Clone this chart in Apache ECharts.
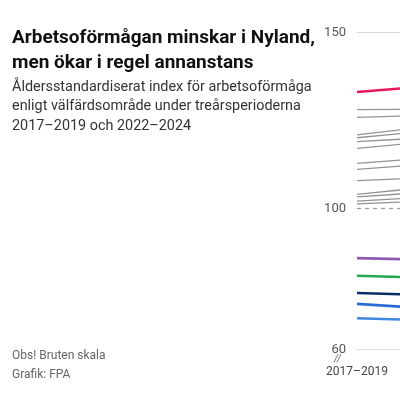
<!DOCTYPE html>
<html>
<head>
<meta charset="utf-8">
<script src="https://cdn.jsdelivr.net/npm/echarts@6/dist/echarts.min.js"></script>
<style>html,body{margin:0;padding:0;background:#fff}#c{width:400px;height:400px}</style>
</head>
<body>
<div id="c"></div>
<script>
// Periods (x categories)
const periods = ['2017–2019', '2022–2024'];
// Y-axis tick labels shown
const yTicks = [60, 100, 150];

// Grey regions (index values, 2017–2019 and 2022–2024)
const greyStart = [128.1, 125.9, 120.9, 120.1, 119.0, 117.1, 112.8, 111.1, 107.9, 104.0, 103.3, 102.1, 101.3];
const greyEnd   = [128.3, 127.7, 128.0, 125.8, 122.3, 122.5, 117.5, 115.8, 110.3, 110.1, 107.3, 105.6, 103.7];

// Whole country reference
const countryValues = [100, 100];

// Highlighted regions
const pinkValues   = [133.1, 137.9];
const purpleValues = [85.9, 84.5];
const greenValues  = [80.9, 79.2];
const navyValues   = [76.0, 74.2];
const blueValues   = [72.9, 69.1];
const blue2Values  = [68.8, 67.2];

const highlighted = [
  {data: pinkValues,   color: '#e8185c'},
  {data: purpleValues, color: '#8a5bb0'},
  {data: greenValues,  color: '#1fa84f'},
  {data: navyValues,   color: '#0b2d66'},
  {data: blueValues,   color: '#2b6bd2'},
  {data: blue2Values,  color: '#4286e0'}
];

const series = [];
series.push({
  type: 'line', data: countryValues, symbol: 'none', silent: true,
  lineStyle: {color: '#9a9a9a', width: 1.3, type: [4, 4]},
  markLine: {
    silent: true, symbol: 'none', label: {show: false},
    lineStyle: {color: '#dcdcdc', width: 1, type: 'solid'},
    data: [{yAxis: 150}, {yAxis: 60}]
  },
  z: 2
});
greyStart.forEach((s, i) => {
  series.push({
    type: 'line', data: [s, greyEnd[i]], symbol: 'none', silent: true,
    lineStyle: {color: '#939393', width: 1.3}, z: 3
  });
});
highlighted.forEach(h => {
  series.push({
    type: 'line', data: h.data, symbol: 'none', silent: true,
    lineStyle: {color: h.color, width: 2.6}, z: 4
  });
});

const chart = echarts.init(document.getElementById('c'), null, {renderer: 'canvas'});
chart.setOption({
  animation: false,
  backgroundColor: '#fff',
  title: [
    {
      text: 'Arbetsoförmågan minskar i Nyland,\nmen ökar i regel annanstans',
      left: 12, top: 26, padding: 0,
      textStyle: {fontFamily: 'Roboto', fontWeight: 'bold', fontSize: 19, lineHeight: 25, color: '#111'}
    },
    {
      text: 'Åldersstandardiserat index för arbetsoförmåga\nenligt välfärdsområde under treårsperioderna\n2017–2019 och 2022–2024',
      left: 12, top: 77.5, padding: 0,
      textStyle: {fontFamily: 'Roboto', fontWeight: 'normal', fontSize: 14.4, lineHeight: 19.5, color: '#333'}
    },
    {
      text: 'Obs! Bruten skala\nGrafik: FPA',
      left: 12, top: 346, padding: 0,
      textStyle: {fontFamily: 'Roboto', fontWeight: 'normal', fontSize: 12, lineHeight: 19, color: '#666'}
    }
  ],
  graphic: [{
    type: 'text', left: 334, top: 354,
    style: {text: '//', font: 'italic 10px Roboto', fill: '#666'}
  }],
  grid: {left: 357, top: 32.5, width: 210, height: 316.8, outerBoundsMode: 'none', containLabel: false},
  xAxis: {
    type: 'category', data: periods, boundaryGap: false,
    axisLine: {show: false}, axisTick: {show: false},
    axisLabel: {margin: 17, fontFamily: 'Roboto', fontSize: 12, color: '#444'}
  },
  yAxis: {
    type: 'value', min: 60, max: 150,
    axisLine: {show: false}, axisTick: {show: false}, splitLine: {show: false},
    axisLabel: {customValues: yTicks, margin: 11, fontFamily: 'Roboto', fontSize: 13, color: '#555'}
  },
  series: series
});
</script>
</body>
</html>
